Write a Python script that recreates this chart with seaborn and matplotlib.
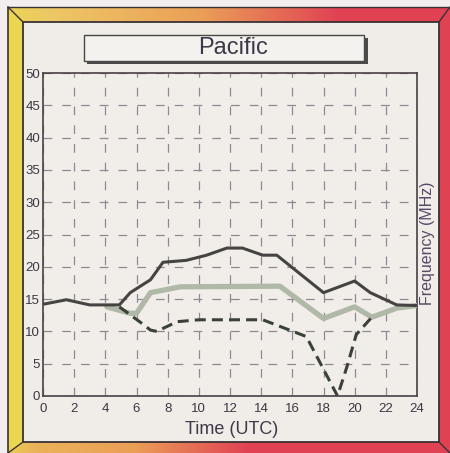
import numpy as np
import pandas as pd
import seaborn as sns
import matplotlib
matplotlib.use('Agg')
import matplotlib.pyplot as plt
from matplotlib.patches import Rectangle

# hours (UTC) and frequencies (MHz)
muf_hours = [0, 1.5, 3, 4.9, 5.6, 6.9, 7.7, 9.2, 10.5, 11.8, 12.8, 14.1, 15, 18, 20, 21, 22.7, 24]
muf_freq = [14.2, 14.9, 14.1, 14.1, 16, 18, 20.7, 21, 21.8, 22.9, 22.9, 21.8, 21.8, 16, 17.8, 16, 14.1, 14.0]

fot_hours = [4.1, 5.6, 6, 6.9, 8.8, 15.2, 18, 20, 21.1, 22.7, 24]
fot_freq = [13.8, 12.8, 12.8, 16, 16.9, 17.0, 12, 13.8, 12.2, 13.6, 14.0]

luf_hours = [4.9, 6.2, 6.9, 7.3, 8.6, 10, 14.1, 16.9, 18.9, 19.5, 20.1, 21.1]
luf_freq = [13.8, 11.5, 10.2, 10, 11.5, 11.8, 11.8, 9.2, 0, 4.5, 9.5, 12.2]

x_ticks = list(range(0, 25, 2))
y_ticks = list(range(0, 51, 5))

sns.set_style('white')
plt.rcParams['font.family'] = ['Liberation Sans', 'DejaVu Sans']

W, H = 450, 453
fig = plt.figure(figsize=(4.5, 4.53), dpi=100)

# --- decorative bevelled frame ---
bg = fig.add_axes([0, 0, 1, 1], zorder=-10)
bg.set_xlim(0, W)
bg.set_ylim(H, 0)
bg.axis('off')

yy, xx = np.mgrid[0:H, 0:W] + 0.5
img = np.ones((H, W, 3))
img[:] = (0.95, 0.93, 0.94)
xo0, yo0, xo1, yo1 = 8, 7, 450, 453
xi0, yi0, xi1, yi1 = 23, 22, 439, 442


def grad(t, stops, cols):
    cols = np.array(cols)
    return np.stack([np.interp(t, stops, cols[:, k]) for k in range(3)], axis=-1)


yellow = (0.92, 0.84, 0.32)
orange = (0.92, 0.62, 0.34)
red = (0.88, 0.26, 0.33)
top_col = grad(xx / W, [0, 0.12, 0.45, 0.75, 1], [yellow, (0.93, 0.78, 0.40), orange, red, red])
bot_col = grad(xx / W, [0, 0.08, 0.3, 0.55, 1], [yellow, (0.92, 0.70, 0.35), orange, red, red])

inside_outer = (xx >= xo0) & (xx <= xo1) & (yy >= yo0) & (yy <= yo1)
inside_inner = (xx >= xi0) & (xx <= xi1) & (yy >= yi0) & (yy <= yi1)
dl = (xx - xo0) / (xi0 - xo0)
dt = (yy - yo0) / (yi0 - yo0)
dr = (xo1 - xx) / (xo1 - xi1)
db = (yo1 - yy) / (yo1 - yi1)
side = np.argmin(np.stack([dl, dt, dr, db]), axis=0)
border = inside_outer & ~inside_inner
img[border & (side == 0)] = yellow
img[border & (side == 1)] = top_col[border & (side == 1)]
img[border & (side == 2)] = red
img[border & (side == 3)] = bot_col[border & (side == 3)]
img[inside_inner] = (0.945, 0.93, 0.91)
bg.imshow(img, extent=(0, W, H, 0), aspect='auto', interpolation='nearest')

edge = '#3a3234'
bg.plot([xo0, xo0], [yo0, yo1], color=edge, lw=1.2)
bg.plot([xo0, xo1], [yo0, yo0], color=edge, lw=1.0)
bg.add_patch(Rectangle((xi0, yi0), xi1 - xi0, yi1 - yi0, fill=False, ec=edge, lw=1.3))
for a, b in [((xo0, yo0), (xi0, yi0)), ((xo1, yo0), (xi1, yi0)),
             ((xo0, yo1), (xi0, yi1)), ((xo1, yo1), (xi1, yi1))]:
    bg.plot([a[0], b[0]], [a[1], b[1]], color=edge, lw=1.0)

# title box with drop shadow
bg.add_patch(Rectangle((87, 38), 281, 26, fc='#4c4a4a', ec='none'))
bg.add_patch(Rectangle((84, 35), 280, 26, fc='#f4f2ef', ec='#4a4646', lw=1.0))
bg.text(233, 48.5, 'Pacific', ha='center', va='center', fontsize=17, color='#3e3848')

# --- chart ---
ax = fig.add_axes([43 / W, 1 - 396 / H, 374 / W, 323 / H])
ax.set_facecolor('#f1eeea')

sns.lineplot(x=fot_hours, y=fot_freq, ax=ax, color='#b0b8a8', lw=3.8,
             estimator=None, zorder=3)
sns.lineplot(x=muf_hours, y=muf_freq, ax=ax, color='#464442', lw=2.2,
             estimator=None, zorder=4)
sns.lineplot(x=luf_hours, y=luf_freq, ax=ax, color='#3a4238', lw=2.2,
             estimator=None, zorder=5)
ax.lines[-1].set_dashes((3.6, 2.0))

ax.set_xlim(0, 24)
ax.set_ylim(0, 50)
ax.set_xticks(x_ticks)
ax.set_yticks(y_ticks)
ax.tick_params(axis='both', length=0, labelsize=9.5, labelcolor='#3c3644')
ax.tick_params(axis='y', pad=2)
ax.tick_params(axis='x', pad=5)
ax.grid(True, color='#8e8890', lw=0.9, linestyle=(0, (7, 8)))
for s in ax.spines.values():
    s.set_visible(True)
    s.set_color('#4a4044')
    s.set_linewidth(1.2)

ax.set_xlabel('Time (UTC)', fontsize=13, color='#3e3848', va='center')
ax.xaxis.set_label_coords(0.505, -0.105)
ax.yaxis.set_label_position('right')
ax.set_ylabel('Frequency (MHz)', fontsize=11.5, color='#584868', rotation=90,
              va='center', ha='center')
ax.yaxis.set_label_coords(1.027, 0.474)

fig.savefig('out.png', dpi=100)
